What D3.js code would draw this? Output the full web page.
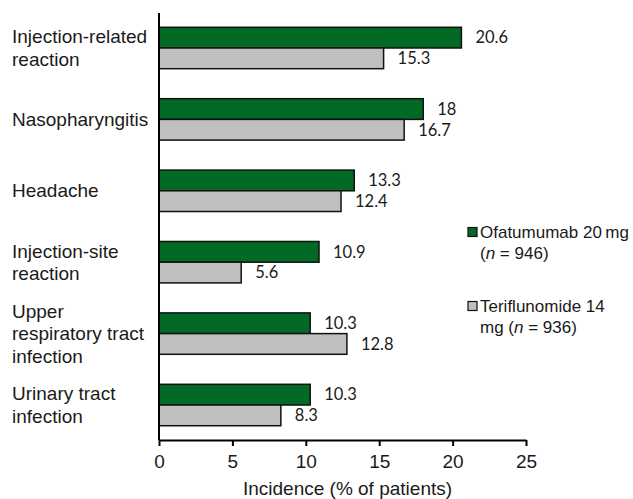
<!DOCTYPE html>
<html>
<head>
<meta charset="utf-8">
<script src="https://cdn.jsdelivr.net/npm/d3@7"></script>
<style>
  body { margin: 0; background: #fff; }
  svg { display: block; }
</style>
</head>
<body>
<div id="chart"></div>
<script>
const categories = [
  ["Injection-related", "reaction"],
  ["Nasopharyngitis"],
  ["Headache"],
  ["Injection-site", "reaction"],
  ["Upper", "respiratory tract", "infection"],
  ["Urinary tract", "infection"]
];
const ofatumumab = [20.6, 18, 13.3, 10.9, 10.3, 10.3];
const teriflunomide = [15.3, 16.7, 12.4, 5.6, 12.8, 8.3];
const xTicks = [0, 5, 10, 15, 20, 25];

const seriesNames = ["ofa", "teri"];
const legendLines = [
  [["Ofatumumab 20\u2009mg"], ["(", "n", " = 946)"]],
  [["Teriflunomide 14"], ["mg (", "n", " = 936)"]]
];
const colors = { ofa: "#036A25", teri: "#C0C0C0" };

const W = 633, H = 499;
const plotLeft = 159, plotTop = 13, axisY = 440, plotRight = 526;

const svg = d3.select("#chart").append("svg")
  .attr("width", W)
  .attr("height", H);

const x = d3.scaleLinear().domain([0, 25]).range([plotLeft, plotRight]);

const y = d3.scaleBand()
  .domain(d3.range(categories.length))
  .range([plotTop, axisY])
  .paddingInner(0.42)
  .paddingOuter(0.2);

const inner = d3.scaleBand()
  .domain(seriesNames)
  .range([0, y.bandwidth()]);

const rows = categories.map((c, i) => ({
  i, lines: c, ofa: ofatumumab[i], teri: teriflunomide[i]
}));

// bars
const groups = svg.append("g").selectAll("g")
  .data(rows)
  .join("g")
  .attr("transform", d => `translate(0,${y(d.i)})`);

groups.selectAll("rect")
  .data(d => seriesNames.map(k => ({ k, v: d[k] })))
  .join("rect")
  .attr("x", x(0))
  .attr("y", d => inner(d.k))
  .attr("width", d => x(d.v) - x(0))
  .attr("height", inner.bandwidth())
  .attr("fill", d => colors[d.k])
  .attr("stroke", "#111")
  .attr("stroke-width", 1.5);

groups.selectAll("text.val")
  .data(d => seriesNames.map(k => ({ k, v: d[k] })))
  .join("text")
  .attr("class", "val")
  .attr("x", d => x(d.v) + 14)
  .attr("y", d => inner(d.k) + inner.bandwidth() / 2)
  .attr("dy", "0.35em")
  .style("font-family", "Lato, 'Open Sans', sans-serif")
  .style("font-size", "16.5px")
  .style("fill", "#1a1a1a")
  .text(d => d.v);

// category labels
const lineH = 22.5;
groups.append("text")
  .style("font-family", "'Liberation Sans', Arial, sans-serif")
  .style("font-size", "19px")
  .style("fill", "#1a1a1a")
  .selectAll("tspan")
  .data(d => d.lines.map((t, j) => ({ t, j, n: d.lines.length })))
  .join("tspan")
  .attr("x", 12)
  .attr("y", d => y.bandwidth() / 2 + (d.j - (d.n - 1) / 2) * lineH)
  .attr("dy", "0.35em")
  .text(d => d.t);

// y axis line
svg.append("line")
  .attr("x1", x(0)).attr("x2", x(0))
  .attr("y1", plotTop).attr("y2", axisY)
  .attr("stroke", "#000")
  .attr("stroke-width", 2);

// x axis
const xAxis = svg.append("g")
  .attr("transform", `translate(0,${axisY})`)
  .call(d3.axisBottom(x).tickValues(xTicks).tickSize(6).tickSizeOuter(0).tickPadding(9));

xAxis.select(".domain").attr("stroke", "#000").attr("stroke-width", 2);
xAxis.selectAll(".tick line").attr("stroke", "#000").attr("stroke-width", 2);
xAxis.selectAll(".tick text")
  .style("font-family", "'Liberation Sans', Arial, sans-serif")
  .style("font-size", "19px")
  .style("fill", "#1a1a1a");

svg.append("text")
  .attr("x", (x(0) + x(25)) / 2 + 5)
  .attr("y", 495)
  .attr("text-anchor", "middle")
  .style("font-family", "'Liberation Sans', Arial, sans-serif")
  .style("font-size", "19px")
  .style("fill", "#1a1a1a")
  .text("Incidence (% of patients)");

// legend
const legendY = [232, 306];
const legend = svg.append("g").selectAll("g")
  .data(seriesNames)
  .join("g")
  .attr("transform", (d, i) => `translate(468,${legendY[i]})`);

legend.append("rect")
  .attr("x", 0)
  .attr("y", -4.5)
  .attr("width", 9)
  .attr("height", 9)
  .attr("fill", d => colors[d])
  .attr("stroke", "#111")
  .attr("stroke-width", 1.2);

legend.each(function (d, i) {
  const t = d3.select(this).append("text")
    .style("font-family", "'Liberation Sans', Arial, sans-serif")
    .style("font-size", "17px")
    .style("fill", "#1a1a1a");
  legendLines[i].forEach((parts, j) => {
    parts.forEach((p, k) => {
      const ts = t.append("tspan").text(p);
      if (k === 0) ts.attr("x", 12).attr("y", j * 21).attr("dy", "0.35em");
      if (p === "n") ts.style("font-style", "italic");
    });
  });
});
</script>
</body>
</html>
